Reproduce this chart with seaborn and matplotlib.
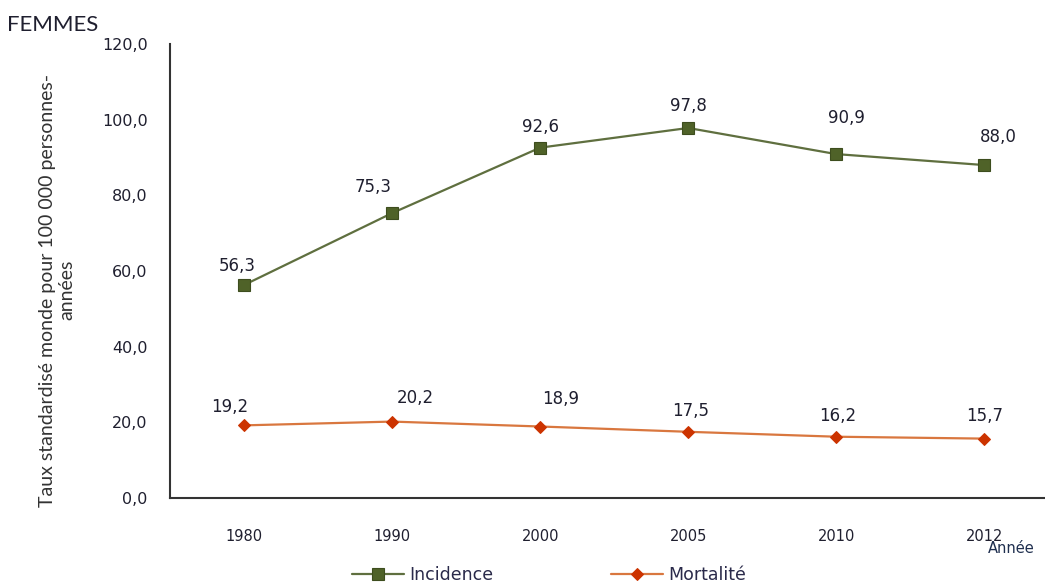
import matplotlib
matplotlib.use("Agg")
import matplotlib.pyplot as plt
import seaborn as sns
import pandas as pd

years = ["1980", "1990", "2000", "2005", "2010", "2012"]
incidence = [56.3, 75.3, 92.6, 97.8, 90.9, 88.0]
mortalite = [19.2, 20.2, 18.9, 17.5, 16.2, 15.7]

sns.set_theme(style="white")
plt.rcParams["font.family"] = ["DejaVu Sans"]

df = pd.DataFrame({"Année": years, "Incidence": incidence, "Mortalité": mortalite})

fig = plt.figure(figsize=(10.45, 5.85), dpi=100)
ax = fig.add_axes([0.1627, 0.1487, 0.8373, 0.7761])

green_line = "#5f6f3f"
green_mark = "#4f6228"
orange_line = "#d9773f"
red_mark = "#cc3300"

sns.lineplot(data=df, x="Année", y="Incidence", ax=ax, color=green_line, lw=1.6,
             marker="s", markersize=9, markerfacecolor=green_mark,
             markeredgecolor="#3d4d1e", markeredgewidth=0.8, label="Incidence",
             sort=False)
sns.lineplot(data=df, x="Année", y="Mortalité", ax=ax, color=orange_line, lw=1.6,
             marker="D", markersize=6, markerfacecolor=red_mark,
             markeredgecolor=red_mark, label="Mortalité", sort=False)

# value labels (offsets in points)
inc_off = [(-5, 14), (-14, 19), (0, 15), (0, 16), (7, 26), (10, 20)]
mort_off = [(-10, 13), (17, 17), (15, 20), (2, 15), (1, 15), (0, 16)]
for i, v in enumerate(incidence):
    ax.annotate(f"{v:.1f}".replace(".", ","), (i, v), xytext=inc_off[i],
                textcoords="offset points", ha="center", va="center",
                fontsize=12, color="#1f1f2f")
for i, v in enumerate(mortalite):
    ax.annotate(f"{v:.1f}".replace(".", ","), (i, v), xytext=mort_off[i],
                textcoords="offset points", ha="center", va="center",
                fontsize=12, color="#1f1f2f")

ax.set_ylim(0, 120)
ax.set_xlim(-0.5, 5.41)
ax.set_yticks(range(0, 121, 20))
ax.set_yticklabels([f"{t:.1f}".replace(".", ",") for t in range(0, 121, 20)],
                   fontsize=11.5, color="#1f1f2f")
ax.tick_params(axis="x", labelsize=10.5, colors="#1f1f2f", pad=22, length=0)
ax.tick_params(axis="y", pad=16, length=0)
ax.set_xlabel("")
ax.set_ylabel("")
sns.despine(ax=ax)
for s in ("left", "bottom"):
    ax.spines[s].set_color("#333333")
    ax.spines[s].set_linewidth(1.5)

fig.text(0.007, 0.958, "FEMMES", fontsize=16, family="Lato", color="#1f1f2f",
         ha="left", va="center")
fig.text(0.055, 0.504, "Taux standardisé monde pour 100 000 personnes-\nannées",
         rotation=90, fontsize=14, family="Lato", color="#333333",
         ha="center", va="center", linespacing=1.15)
fig.text(0.968, 0.063, "Année", fontsize=10.5, color="#1f2f4f", ha="center", va="center")

leg = ax.legend(loc="center", bbox_to_anchor=(0.433, -0.17), ncol=2, frameon=False,
                fontsize=12.5, columnspacing=6.8, handlelength=3, handletextpad=0.3)
for t in leg.get_texts():
    t.set_color("#2a2a4a")

fig.savefig("out.png", dpi=100)
